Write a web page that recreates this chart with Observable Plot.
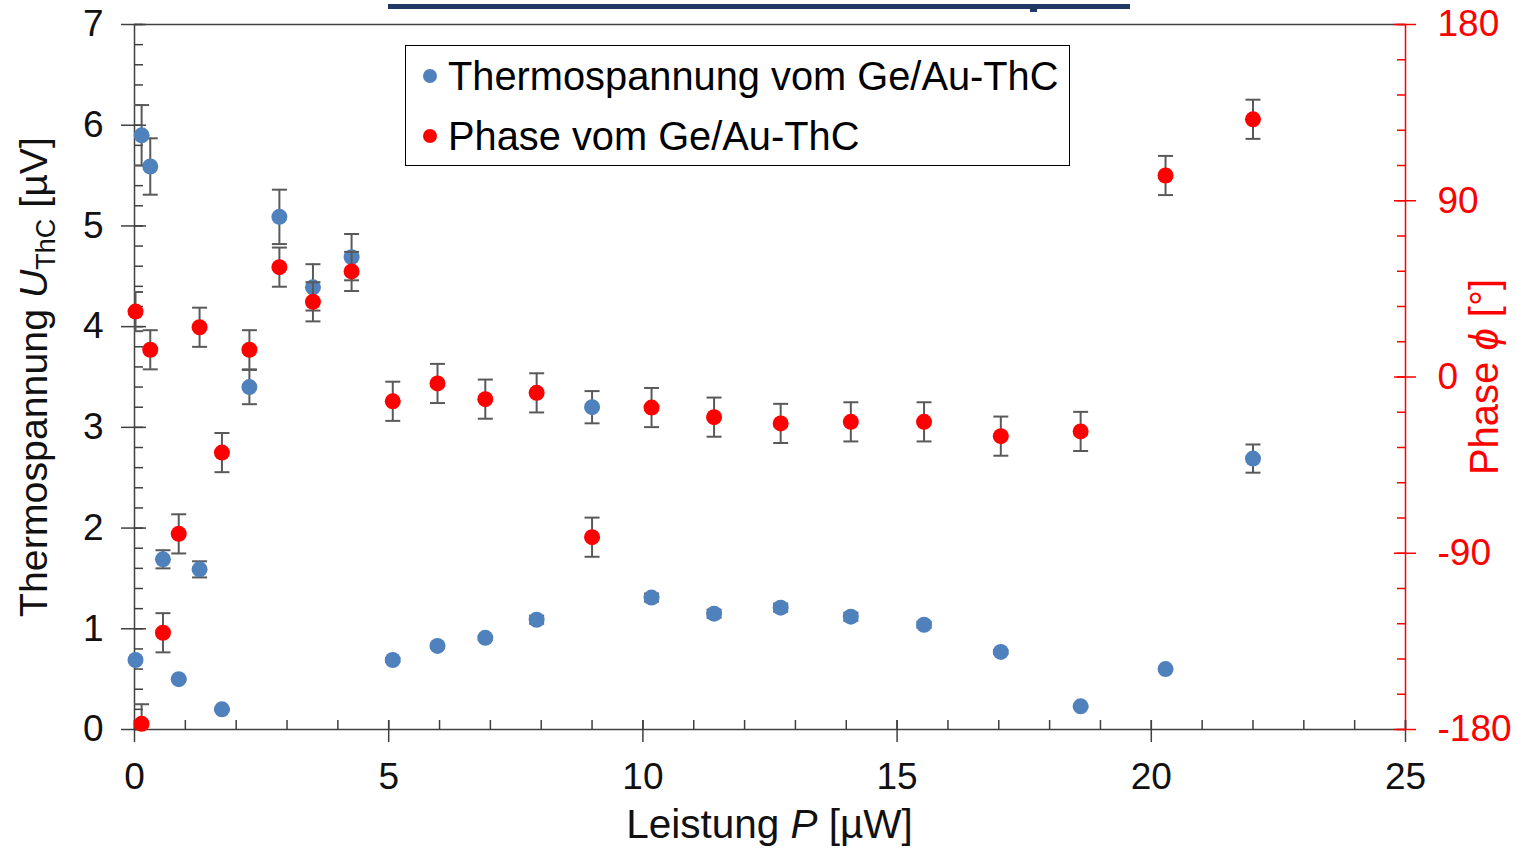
<!DOCTYPE html>
<html><head><meta charset="utf-8">
<script src="https://cdn.jsdelivr.net/npm/d3@7"></script>
<script src="https://cdn.jsdelivr.net/npm/@observablehq/plot@0.6"></script>
<style>
body{margin:0;background:#fff;font-family:"Liberation Sans",Arial,sans-serif;}
#wrap{position:relative;width:1517px;height:848px;overflow:hidden;}
#bar{position:absolute;left:388px;top:4px;width:742px;height:5px;background:#203864;}
#tab{position:absolute;left:1030px;top:4px;width:7px;height:8px;background:#203864;}
#legend{position:absolute;left:405px;top:45px;width:663px;height:119px;border:1.5px solid #000;background:#fff;font-size:39.8px;color:#000;}
.row{position:absolute;left:0;height:44px;line-height:44px;white-space:nowrap;}
.row span.dot{position:absolute;left:17px;top:15px;width:14px;height:14px;border-radius:50%;}
.row span.lab{position:absolute;left:42px;top:0;}
</style></head><body>
<div id="wrap">
  <div id="bar"></div><div id="tab"></div>
  <div id="legend">
    <div class="row" style="top:8px"><span class="dot" style="background:#4F81BD"></span><span class="lab">Thermospannung vom Ge/Au-ThC</span></div>
    <div class="row" style="top:68px"><span class="dot" style="background:#FF0000"></span><span class="lab">Phase vom Ge/Au-ThC</span></div>
  </div>
</div>
<script>
// Leistung P [µW]
const power = [0.02,0.14,0.31,0.56,0.87,1.28,1.72,2.26,2.85,3.51,4.27,5.08,5.96,6.90,7.91,9.00,10.17,11.40,12.71,14.09,15.53,17.04,18.61,20.28,22.00];
// Thermospannung U_ThC [µV]
const voltage = [0.69,5.90,5.59,1.69,0.50,1.59,0.20,3.40,5.09,4.39,4.69,0.69,0.83,0.91,1.09,3.20,1.31,1.15,1.21,1.12,1.04,0.77,0.23,0.60,2.69];
const voltageErr = [0.02,0.30,0.28,0.09,0.01,0.08,0.01,0.17,0.27,0.23,0.23,0.02,0.02,0.02,0.04,0.16,0.04,0.04,0.04,0.04,0.03,0.02,0.01,0.01,0.14];
// Phase [°]
const phase = [33.4,-177.1,13.9,-130.6,-80.1,25.4,-38.6,13.9,56.1,38.4,53.9,-12.4,-3.3,-11.3,-8.1,-81.8,-15.6,-20.5,-23.7,-22.9,-22.9,-30.2,-27.8,102.9,131.6];
const phaseErr = [10,10,10,10,10,10,10,10,10,10,10,10,10,10,10,10,10,10,10,10,10,10,10,10,10];

const xMajor = [0,5,10,15,20,25];
const yMajor = [0,1,2,3,4,5,6,7];
const phaseMajor = [-180,-90,0,90,180];

const xMinor = d3.range(0, 25.001, 1);
const yMinor = d3.range(0, 7.001, 0.2);
const phaseMinor = d3.range(-180, 180.001, 18);

const BLUE = "#4F81BD", RED = "#FF0000", ERR = "#595959", AX = "#404040";
const yMax = 7;
const toY = p => (p + 180) / 360 * yMax;
const fromY = y => Math.round(y / yMax * 360 - 180);

const blue = power.map((p, i) => ({p, v: voltage[i], e: voltageErr[i]}));
const red = power.map((p, i) => ({p, v: toY(phase[i]), e: toY(phaseErr[i]) - toY(0)}));
const caps = d => d.flatMap(o => [{p: o.p, y: o.v - o.e}, {p: o.p, y: o.v + o.e}]);
const capSymbol = {draw(ctx, size) { const w = Math.sqrt(size / Math.PI); ctx.moveTo(-w, 0); ctx.lineTo(w, 0); }};

const chart = Plot.plot({
  width: 1517, height: 848,
  marginLeft: 134, marginRight: 112, marginTop: 24, marginBottom: 119,
  x: {domain: [0, 25]},
  y: {domain: [0, yMax]},
  style: {fontFamily: "Liberation Sans, Arial, sans-serif", fontSize: "37px", color: "#111", background: "transparent"},
  marks: [
    // frame lines
    Plot.ruleY([yMax], {stroke: AX, strokeWidth: 1.5}),
    Plot.ruleX([0], {stroke: AX, strokeWidth: 1.5}),
    Plot.ruleX([25], {stroke: RED, strokeWidth: 1.5}),
    Plot.ruleY([0], {stroke: AX, strokeWidth: 1.5}),
    // left axis
    Plot.axisY({anchor: "left", ticks: yMinor, tickSize: 9, dx: 9, fill: "none", label: null, stroke: AX, strokeWidth: 1.5}),
    Plot.axisY({anchor: "left", ticks: yMajor, tickSize: 25, dx: 12, fill: "none", label: null, stroke: AX, strokeWidth: 1.5}),
    Plot.axisY({anchor: "left", ticks: yMajor, tickSize: 0, tickPadding: 31, label: null, fill: "#111", tickFormat: d => String(d)}),
    // bottom axis
    Plot.axisX({anchor: "bottom", ticks: xMinor, tickSize: 9, dy: -9, fill: "none", label: null, stroke: AX, strokeWidth: 1.5}),
    Plot.axisX({anchor: "bottom", ticks: xMajor, tickSize: 22, dy: -9, fill: "none", label: null, stroke: AX, strokeWidth: 1.5}),
    Plot.axisX({anchor: "bottom", ticks: xMajor, tickSize: 0, tickPadding: 33, label: null, fill: "#111", tickFormat: d => String(d)}),
    // right axis (phase)
    Plot.axisY({anchor: "right", ticks: phaseMinor.map(toY), tickSize: 9, dx: -9, fill: "none", label: null, stroke: RED, strokeWidth: 1.5}),
    Plot.axisY({anchor: "right", ticks: phaseMajor.map(toY), tickSize: 22, dx: -12, fill: "none", label: null, stroke: RED, strokeWidth: 1.5}),
    Plot.axisY({anchor: "right", ticks: phaseMajor.map(toY), tickSize: 0, tickPadding: 32, label: null, fill: RED, tickFormat: d => String(fromY(d))}),
    // blue series
    Plot.ruleX(blue, {x: "p", y1: d => d.v - d.e, y2: d => d.v + d.e, stroke: ERR, strokeWidth: 2, clip: true}),
    Plot.dot(caps(blue), {x: "p", y: "y", symbol: capSymbol, r: 7.5, stroke: ERR, strokeWidth: 2, fill: "none", clip: true}),
    Plot.dot(blue, {x: "p", y: "v", r: 8, fill: BLUE}),
    // red series
    Plot.ruleX(red, {x: "p", y1: d => d.v - d.e, y2: d => d.v + d.e, stroke: ERR, strokeWidth: 2, clip: true}),
    Plot.dot(caps(red), {x: "p", y: "y", symbol: capSymbol, r: 7.5, stroke: ERR, strokeWidth: 2, fill: "none", clip: true}),
    Plot.dot(red, {x: "p", y: "v", r: 8, fill: RED})
  ]
});

document.getElementById("wrap").prepend(chart);
const svg = d3.select(chart);
svg.style("position", "absolute").style("left", "0").style("top", "0");

// axis titles with italics / subscript
const left = svg.append("text")
  .attr("transform", "translate(47,377) rotate(-90)")
  .attr("text-anchor", "middle").attr("font-size", 39.3).attr("fill", "#111")
  .attr("font-family", "Liberation Sans, Arial, sans-serif");
left.append("tspan").text("Thermospannung ");
left.append("tspan").attr("font-style", "italic").text("U");
left.append("tspan").attr("font-size", 27).attr("dy", 8).text("ThC");
left.append("tspan").attr("dy", -8).text(" [µV]");

const right = svg.append("text")
  .attr("transform", "translate(1498,377) rotate(-90)")
  .attr("text-anchor", "middle").attr("font-size", 40).attr("fill", RED)
  .attr("font-family", "Liberation Sans, Arial, sans-serif");
right.append("tspan").text("Phase ");
right.append("tspan").attr("font-style", "italic").text("ϕ");
right.append("tspan").text(" [°]");

const bottom = svg.append("text")
  .attr("x", 769.5).attr("y", 838)
  .attr("text-anchor", "middle").attr("font-size", 40.5).attr("fill", "#111")
  .attr("font-family", "Liberation Sans, Arial, sans-serif");
bottom.append("tspan").text("Leistung ");
bottom.append("tspan").attr("font-style", "italic").text("P");
bottom.append("tspan").text(" [µW]");
</script>
</body></html>
